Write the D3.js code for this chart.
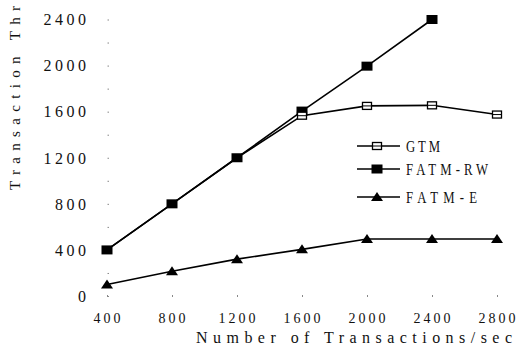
<!DOCTYPE html>
<html><head><meta charset="utf-8">
<script src="https://cdn.jsdelivr.net/npm/d3@7"></script>
<style>
html,body{margin:0;padding:0;background:#fff;}
text{font-family:"Liberation Serif","Times New Roman",serif;fill:#111;}
</style></head>
<body>
<svg id="c" width="518" height="347"></svg>
<script>
const xValues = [400, 800, 1200, 1600, 2000, 2400, 2800];
const gtm = [400, 800, 1200, 1565, 1650, 1655, 1575];
const fatmRW = [400, 800, 1200, 1605, 1995, 2400, null];
const fatmE = [100, 215, 320, 405, 495, 495, 495];
const yTicks = [0, 400, 800, 1200, 1600, 2000, 2400];
const seriesNames = ["GTM", "FATM-RW", "FATM-E"];
const xTitle = "Number of Transactions/sec";
const yTitle = "Transaction Thr";

const svg = d3.select("#c");
const x = d3.scaleLinear().domain([400, 2800]).range([107, 497]);
const y = d3.scaleLinear().domain([0, 2400]).range([296, 19.5]);

// faint y-axis tick dots
const yAxis = d3.axisLeft(y).tickValues(d3.range(0, 2401, 200)).tickSize(1.5).tickFormat("");
const ya = svg.append("g").attr("transform", "translate(109,0)").call(yAxis);
ya.select(".domain").remove();
ya.selectAll(".tick line").attr("stroke", "#888").attr("stroke-width", 1);

// y tick labels
svg.append("g").selectAll("text").data(yTicks).join("text")
  .attr("x", 86).attr("y", d => y(d)).attr("dy", "0.36em")
  .attr("text-anchor", "end").attr("font-size", 16)
  .attr("textLength", d => String(d).length * 11.5 - 3.5).attr("lengthAdjust", "spacing")
  .text(d => d);

// faint x-axis ticks
const xAxis = d3.axisBottom(x).tickValues(xValues).tickSize(2).tickFormat("");
const xa = svg.append("g").attr("transform", "translate(0,295)").call(xAxis);
xa.select(".domain").remove();
xa.selectAll(".tick line").attr("stroke", "#888");

// x tick labels
svg.append("g").selectAll("text").data(xValues).join("text")
  .attr("x", d => x(d)).attr("y", 323)
  .attr("text-anchor", "middle").attr("font-size", 14)
  .attr("textLength", d => String(d).length * 10 - 3).attr("lengthAdjust", "spacing")
  .text(d => d);

// titles
svg.append("text").attr("x", 196).attr("y", 343).attr("text-anchor", "start")
  .attr("font-size", 16).attr("textLength", 316).attr("lengthAdjust", "spacing").text(xTitle);
svg.append("text").attr("transform", "translate(20,190) rotate(-90)")
  .attr("text-anchor", "start").attr("font-size", 15)
  .attr("textLength", 184).attr("lengthAdjust", "spacing").text(yTitle);

const line = d3.line().defined(d => d[1] != null).x(d => x(d[0])).y(d => y(d[1]));
const allSeries = [gtm, fatmRW, fatmE];
const g = svg.append("g");

allSeries.forEach(vals => {
  const pts = xValues.map((xv, i) => [xv, vals[i]]);
  g.append("path").datum(pts).attr("d", line)
    .attr("fill", "none").attr("stroke", "#000").attr("stroke-width", 1.6);
});

function drawMarker(sel, kind, cx, cy) {
  if (kind === 0) {
    sel.append("rect").attr("x", cx - 4.5).attr("y", cy - 3.5).attr("width", 9).attr("height", 7)
      .attr("fill", "#fff").attr("stroke", "#000").attr("stroke-width", 1.3);
    sel.append("line").attr("x1", cx - 4.5).attr("x2", cx + 4.5).attr("y1", cy).attr("y2", cy)
      .attr("stroke", "#000").attr("stroke-width", 1);
  } else if (kind === 1) {
    sel.append("rect").attr("x", cx - 5.5).attr("y", cy - 4.5).attr("width", 11).attr("height", 9)
      .attr("fill", "#000");
  } else {
    sel.append("path").attr("d", `M${cx - 6},${cy + 4} L${cx + 6},${cy + 4} L${cx},${cy - 5} Z`)
      .attr("fill", "#000");
  }
}

[1, 0, 2].forEach(k => {
  const vals = allSeries[k];
  xValues.forEach((xv, i) => {
    if (vals[i] == null) return;
    if (k === 0 && i < 4 && fatmRW[i] != null && Math.abs(fatmRW[i] - vals[i]) < 30) return;
    drawMarker(g, k, x(xv), y(vals[i]));
  });
});

// legend
const legY = [146, 169, 197];
const legW = [34, 82, 71];
const sx = 0.75;
const lg = svg.append("g");
seriesNames.forEach((name, i) => {
  lg.append("line").attr("x1", 357).attr("x2", 400).attr("y1", legY[i]).attr("y2", legY[i])
    .attr("stroke", "#000").attr("stroke-width", 1.6);
  drawMarker(lg, i, 377, legY[i]);
  lg.append("g").attr("transform", `translate(406,${legY[i]}) scale(${sx},1)`)
    .append("text").attr("x", 0).attr("y", 0).attr("dy", "0.36em")
    .attr("font-size", 17).attr("textLength", legW[i] / sx).attr("lengthAdjust", "spacing").text(name);
});
</script>
</body></html>
